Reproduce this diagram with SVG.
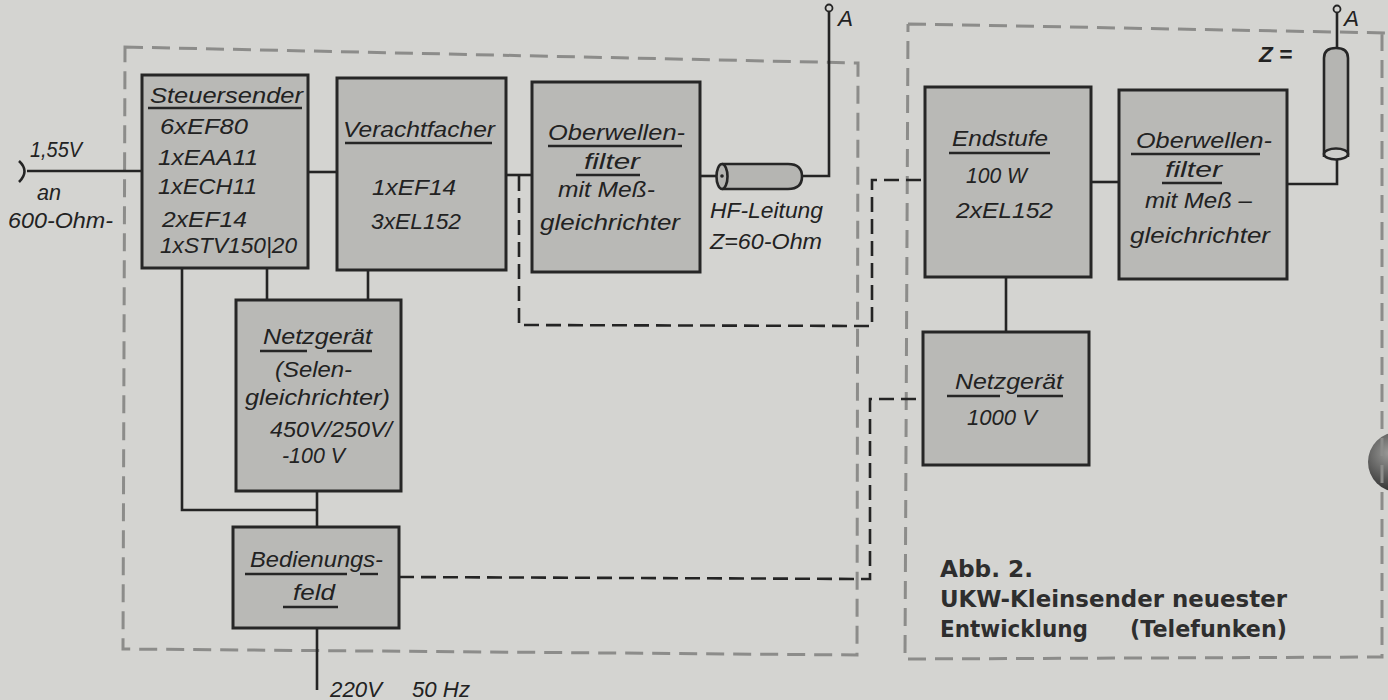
<svg xmlns="http://www.w3.org/2000/svg" width="1388" height="700" viewBox="0 0 1388 700">
<defs>
<style>
.bg{fill:#d4d4d1}
.box{fill:#b9b9b6;stroke:#262626;stroke-width:3}
.frame{fill:none;stroke:#8c8c8a;stroke-width:3;stroke-dasharray:18 9}
.w{fill:none;stroke:#242424;stroke-width:2.6}
.d{fill:none;stroke:#242424;stroke-width:2.6;stroke-dasharray:15 7}
.t{font-family:"Liberation Sans","DejaVu Sans",sans-serif;font-style:italic;font-size:22.5px;fill:#222}
.ul{stroke:#262626;stroke-width:2.4}
.cap{font-family:"DejaVu Sans","Liberation Sans",sans-serif;font-size:23px;fill:#2e2e2e;font-weight:bold}
.cab{fill:#b5b5b2;stroke:#262626;stroke-width:2.6}
</style>
<radialGradient id="ball" cx="0.35" cy="0.35" r="0.7">
<stop offset="0" stop-color="#9a9a98"/><stop offset="1" stop-color="#2a2a2a"/>
</radialGradient>
</defs>
<rect class="bg" x="0" y="0" width="1388" height="700"/>
<circle cx="1398" cy="462" r="30" fill="url(#ball)"/>

<g id="frames">
<path class="frame" d="M125,47 L858,63 L857,655 L123,649 Z"/>
<path class="frame" d="M908,24 L1388,33 M1382,33 L1382,657 L905,659 L908,24"/>
</g>

<g id="connectors">
<path class="w" d="M27,171 H142"/>
<path class="w" d="M19,161 Q30,171 19,182" stroke-width="3.2"/>
<path class="w" d="M308,172 H337"/>
<path class="w" d="M506,175 H532"/>
<path class="w" d="M700,176 H718"/>
<path class="w" d="M800,176 H829 V12"/>
<circle cx="829" cy="8" r="3.5" fill="#d4d4d1" stroke="#242424" stroke-width="1.8"/>
<path class="w" d="M267,268 V300 M368,270 V300"/>
<path class="w" d="M182,268 V510 H317"/>
<path class="w" d="M317,491 V527"/>
<path class="w" d="M317,628 V690"/>
<path class="w" d="M1091,182 H1119"/>
<path class="w" d="M1287,184 H1337 V158"/>
<path class="w" d="M1337,48 V13"/>
<circle cx="1337" cy="9" r="3.5" fill="#d4d4d1" stroke="#242424" stroke-width="1.8"/>
<path class="w" d="M1006,277 V332"/>
<path class="d" d="M519,176 V325 L872,326 V180 H926"/>
<path class="d" d="M399,577 L870,579 V399 H923"/>
</g>

<g id="steuersender">
<rect class="box" x="142" y="75" width="166" height="193"/>
<text class="t" x="150" y="103" textLength="153" lengthAdjust="spacingAndGlyphs">Steuersender</text>
<line class="ul" x1="148" y1="108" x2="302" y2="108"/>
<text class="t" x="160" y="134" textLength="88" lengthAdjust="spacingAndGlyphs">6xEF80</text>
<text class="t" x="158" y="165" textLength="100" lengthAdjust="spacingAndGlyphs">1xEAA11</text>
<text class="t" x="158" y="194" textLength="99" lengthAdjust="spacingAndGlyphs">1xECH11</text>
<text class="t" x="162" y="227" textLength="85" lengthAdjust="spacingAndGlyphs">2xEF14</text>
<text class="t" x="160" y="253" textLength="137" lengthAdjust="spacingAndGlyphs">1xSTV150|20</text>
</g>

<g id="input-label">
<text class="t" x="30" y="157" textLength="52" lengthAdjust="spacingAndGlyphs">1,55V</text>
<text class="t" x="37" y="200" textLength="24" lengthAdjust="spacingAndGlyphs">an</text>
<text class="t" x="8" y="228" textLength="105" lengthAdjust="spacingAndGlyphs">600-Ohm-</text>
</g>

<g id="verachtfacher">
<rect class="box" x="337" y="78" width="169" height="192"/>
<text class="t" x="343" y="137" textLength="152" lengthAdjust="spacingAndGlyphs">Verachtfacher</text>
<line class="ul" x1="345" y1="143" x2="492" y2="143"/>
<text class="t" x="372" y="195" textLength="84" lengthAdjust="spacingAndGlyphs">1xEF14</text>
<text class="t" x="371" y="229" textLength="90" lengthAdjust="spacingAndGlyphs">3xEL152</text>
</g>

<g id="oberwellen1">
<rect class="box" x="532" y="82" width="168" height="190"/>
<text class="t" x="548" y="140" textLength="137" lengthAdjust="spacingAndGlyphs">Oberwellen-</text>
<line class="ul" x1="548" y1="146" x2="682" y2="146"/>
<text class="t" x="584" y="169" textLength="56" lengthAdjust="spacingAndGlyphs">filter</text>
<line class="ul" x1="576" y1="175" x2="640" y2="175"/>
<text class="t" x="558" y="197" textLength="97" lengthAdjust="spacingAndGlyphs">mit Meß-</text>
<text class="t" x="540" y="230" textLength="140" lengthAdjust="spacingAndGlyphs">gleichrichter</text>
</g>

<g id="hf-leitung">
<path class="cab" d="M722,164 H788 Q802,164 802,176.5 Q802,189 788,189 H722"/>
<ellipse class="cab" cx="722" cy="176.5" rx="5.5" ry="12.5"/>
<circle cx="722" cy="176" r="1.8" fill="#242424"/>
<text class="t" x="710" y="218" textLength="113" lengthAdjust="spacingAndGlyphs">HF-Leitung</text>
<text class="t" x="710" y="249" textLength="112" lengthAdjust="spacingAndGlyphs">Z=60-Ohm</text>
<text class="t" x="838" y="26" font-size="21">A</text>
</g>

<g id="netzgeraet1">
<rect class="box" x="236" y="300" width="165" height="191"/>
<text class="t" x="263" y="344" textLength="109" lengthAdjust="spacingAndGlyphs">Netzgerät</text>
<line class="ul" x1="260" y1="351" x2="307" y2="351"/>
<line class="ul" x1="327" y1="351" x2="372" y2="351"/>
<text class="t" x="275" y="377" textLength="77" lengthAdjust="spacingAndGlyphs">(Selen-</text>
<text class="t" x="245" y="405" textLength="145" lengthAdjust="spacingAndGlyphs">gleichrichter)</text>
<text class="t" x="270" y="437" textLength="122" lengthAdjust="spacingAndGlyphs">450V/250V/</text>
<text class="t" x="282" y="463" textLength="63" lengthAdjust="spacingAndGlyphs">-100 V</text>
</g>

<g id="bedienungsfeld">
<rect class="box" x="233" y="527" width="166" height="101"/>
<text class="t" x="250" y="567" textLength="133" lengthAdjust="spacingAndGlyphs">Bedienungs-</text>
<line class="ul" x1="245" y1="574" x2="347" y2="574"/>
<line class="ul" x1="360" y1="574" x2="378" y2="574"/>
<text class="t" x="293" y="600" textLength="42" lengthAdjust="spacingAndGlyphs">feld</text>
<line class="ul" x1="283" y1="607" x2="338" y2="607"/>
</g>

<g id="mains-label">
<text class="t" x="330" y="697" textLength="52" lengthAdjust="spacingAndGlyphs">220V</text>
<text class="t" x="412" y="697" textLength="58" lengthAdjust="spacingAndGlyphs" fill="#444">50 Hz</text>
</g>

<g id="endstufe">
<rect class="box" x="925" y="87" width="166" height="190"/>
<text class="t" x="952" y="146" textLength="96" lengthAdjust="spacingAndGlyphs">Endstufe</text>
<line class="ul" x1="949" y1="153" x2="1050" y2="153"/>
<text class="t" x="966" y="183" textLength="61" lengthAdjust="spacingAndGlyphs">100 W</text>
<text class="t" x="956" y="218" textLength="97" lengthAdjust="spacingAndGlyphs">2xEL152</text>
</g>

<g id="oberwellen2">
<rect class="box" x="1119" y="90" width="168" height="189"/>
<text class="t" x="1136" y="148" textLength="136" lengthAdjust="spacingAndGlyphs">Oberwellen-</text>
<line class="ul" x1="1131" y1="154" x2="1260" y2="154"/>
<text class="t" x="1165" y="177" textLength="57" lengthAdjust="spacingAndGlyphs">filter</text>
<line class="ul" x1="1162" y1="183" x2="1222" y2="183"/>
<text class="t" x="1145" y="208" textLength="107" lengthAdjust="spacingAndGlyphs">mit Meß –</text>
<text class="t" x="1130" y="243" textLength="140" lengthAdjust="spacingAndGlyphs">gleichrichter</text>
</g>

<g id="antenne2">
<path class="cab" d="M1324,157 V58 Q1324,48 1336,48 Q1348,48 1348,58 V157"/>
<ellipse cx="1336" cy="154" rx="12" ry="5.5" fill="#cfcfcc" stroke="#262626" stroke-width="2.6"/>
<text class="t" x="1344" y="26" font-size="21">A</text>
<text class="t" x="1259" y="62" font-size="15" font-weight="bold">Z =</text>
</g>

<g id="netzgeraet2">
<rect class="box" x="923" y="332" width="166" height="133"/>
<text class="t" x="955" y="389" textLength="108" lengthAdjust="spacingAndGlyphs">Netzgerät</text>
<line class="ul" x1="947" y1="396" x2="1000" y2="396"/>
<line class="ul" x1="1017" y1="396" x2="1063" y2="396"/>
<text class="t" x="967" y="425" textLength="70" lengthAdjust="spacingAndGlyphs">1000 V</text>
</g>

<g id="caption">
<text class="cap" x="940" y="577" textLength="93" lengthAdjust="spacingAndGlyphs">Abb. 2.</text>
<text class="cap" x="940" y="607" textLength="347" lengthAdjust="spacingAndGlyphs">UKW-Kleinsender neuester</text>
<text class="cap" x="940" y="637" textLength="148" lengthAdjust="spacingAndGlyphs">Entwicklung</text>
<text class="cap" x="1130" y="637" textLength="157" lengthAdjust="spacingAndGlyphs">(Telefunken)</text>
</g>
</svg>
